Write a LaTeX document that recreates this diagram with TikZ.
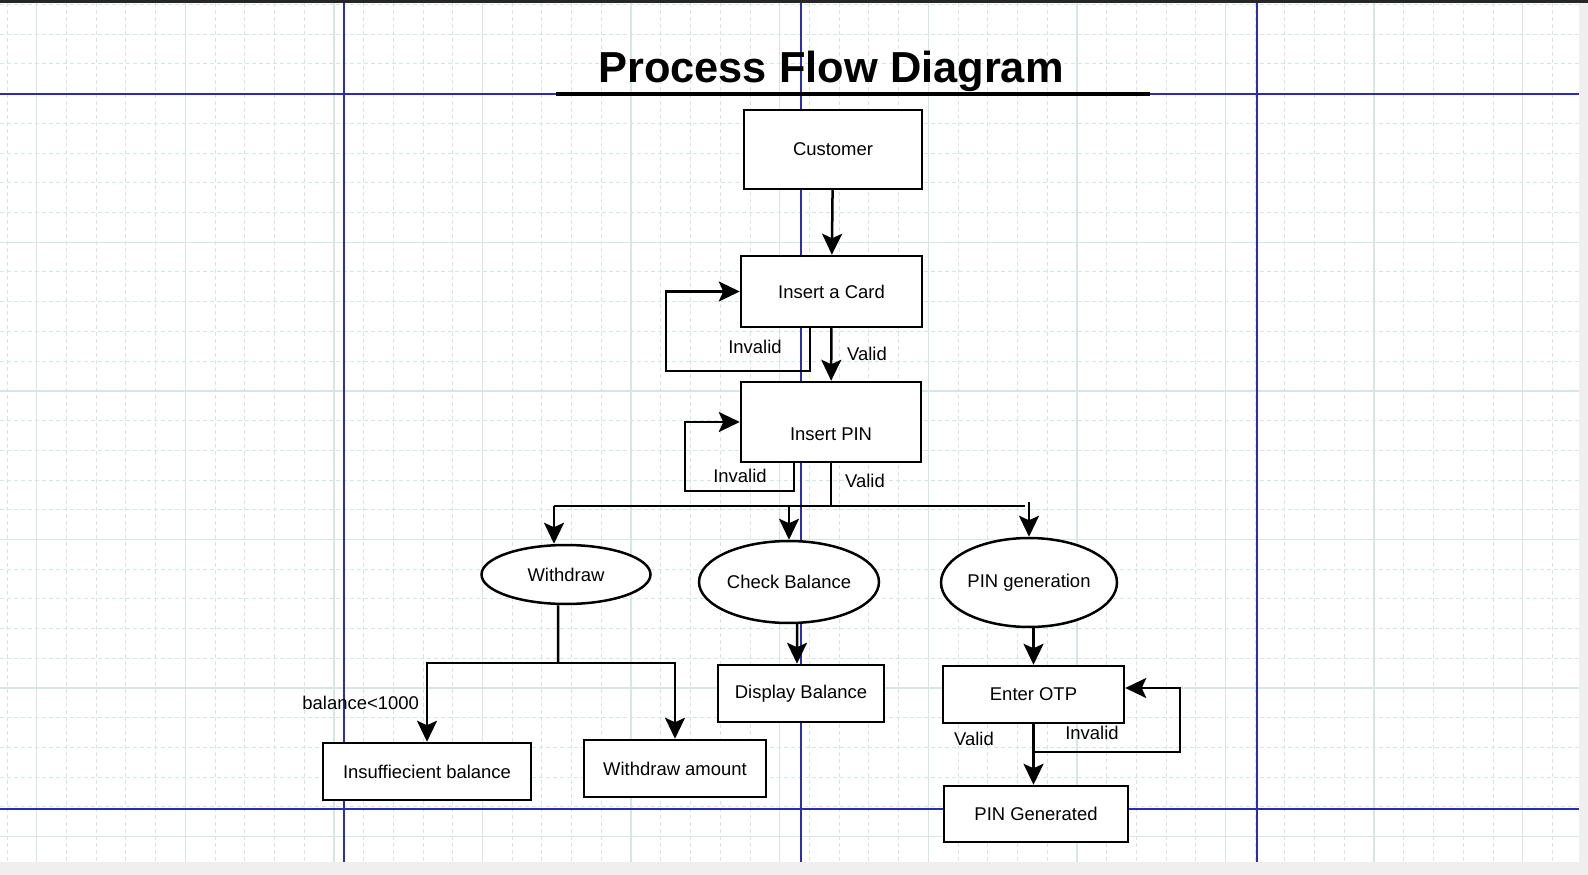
\documentclass[tikz,border=0pt]{standalone}
\usepackage{fontspec}
\setmainfont{Liberation Sans}
\usetikzlibrary{arrows.meta,shapes.geometric}
\definecolor{gridtint}{HTML}{D8E5E5}
\definecolor{guideblue}{HTML}{2B2BB3}
\definecolor{framegray}{HTML}{EFEFEF}

\begin{document}
\begin{tikzpicture}[
  x=0.02cm,
  y=-0.02cm,
  every node/.style={
    font=\fontsize{10.5}{12}\selectfont
  },
  flow box/.style={
    draw,
    fill=white,
    line width=0.05cm,
    inner sep=0pt
  },
  flow oval/.style={
    ellipse,
    draw,
    fill=white,
    line width=0.05cm,
    inner sep=0pt
  },
  flow arrow/.style={
    draw,
    line width=0.05cm,
    -{Stealth[length=0.42cm,width=0.4cm,inset=0.09cm]}
  },
  flow line/.style={
    draw,
    line width=0.05cm
  },
  flow label/.style={
    inner sep=1pt
  },
  grid minor/.style={
    gridtint,
    line width=0.02cm,
    dash pattern=on 0.08cm off 0.06cm
  },
  grid major/.style={
    gridtint,
    line width=0.03cm
  },
  guide line/.style={
    guideblue,
    line width=0.03cm
  },
]
\useasboundingbox (0,0) rectangle (1588,875);
\fill[framegray] (0,0) rectangle (1588,875);
\fill[white] (0,3) rectangle (1579,862);
\fill[black!85] (0,0) rectangle (1588,3);
\foreach \k in {0,...,52}
  \draw[grid minor] (7+29.72*\k,3) -- (7+29.72*\k,862);
\foreach \k in {0,...,28}
  \draw[grid minor] (0,4.5+29.72*\k) -- (1579,4.5+29.72*\k);
\foreach \k in {1,6,...,51}
  \draw[grid major] (7+29.72*\k,3) -- (7+29.72*\k,862);
\foreach \k in {3,8,...,28}
  \draw[grid major] (0,4.5+29.72*\k) -- (1579,4.5+29.72*\k);
\foreach \gx in {344,801,1257}
  \draw[guide line] (\gx,3) -- (\gx,862);
\foreach \gy in {94,809}
  \draw[guide line] (0,\gy) -- (1579,\gy);

\node[anchor=base,font=\fontsize{24.7}{30}\selectfont\bfseries] (title) at (831,83) {Process Flow Diagram};
\draw[line width=0.08cm] (556,94) -- (1150,94);

\node[flow box,minimum width=3.56cm,minimum height=1.58cm] (customer) at (833,149.5) {Customer};
\node[flow box,minimum width=3.62cm,minimum height=1.42cm] (card) at (831.5,291.5) {Insert a Card};
\node[flow box,minimum width=3.60cm,minimum height=1.60cm] (pin) at (831,422) {};
\node (pintext) at (831,434) {Insert PIN};
\node[flow oval,minimum width=3.38cm,minimum height=1.18cm] (withdraw) at (566,574.5) {Withdraw};
\node[flow oval,minimum width=3.60cm,minimum height=1.64cm] (check) at (789,582) {Check Balance};
\node[flow oval,minimum width=3.52cm,minimum height=1.78cm] (pingen) at (1029,582.5) {PIN generation};
\node[flow box,minimum width=4.16cm,minimum height=1.14cm] (insuff) at (427,771.5) {Insuffiecient balance};
\node[flow box,minimum width=3.64cm,minimum height=1.14cm] (amount) at (675,768.5) {Withdraw amount};
\node[flow box,minimum width=3.32cm,minimum height=1.14cm] (display) at (801,693.5) {Display Balance};
\node[flow box,minimum width=3.62cm,minimum height=1.14cm] (otp) at (1033.5,694.5) {Enter OTP};
\node[flow box,minimum width=3.68cm,minimum height=1.12cm] (pingend) at (1036,814) {PIN Generated};

\coordinate (cardloop) at (666,371);
\coordinate (pinloop) at (685,491);
\coordinate (split) at (831,506);
\coordinate (splitl) at (554,506);
\coordinate (splitr) at (1025,506);
\coordinate (wsplit) at (558,663);
\coordinate (otploop) at (1180,752);

\draw[flow arrow] (customer) -- (card);
\draw[flow arrow] ([xshift=-0.43cm]card.south) |- (cardloop) |- (card.west);
\draw[flow arrow] (card) -- (pin);
\draw[flow arrow] ([xshift=-0.74cm]pin.south) |- (pinloop) |- (pin.west);
\draw[flow line] (pin.south) -- (split);
\draw[flow line] (splitl) -- (splitr);
\draw[flow arrow] (splitl) -- (splitl |- withdraw.north);
\draw[flow arrow] (check.north |- split) -- (check.north);
\draw[flow arrow] (pingen.north |- split) ++(0,-4) -- (pingen.north);
\draw[flow line] ([xshift=-0.16cm]withdraw.south) -- (wsplit);
\draw[flow arrow] (wsplit) -| (insuff.north);
\draw[flow arrow] (wsplit) -| (amount.north);
\draw[flow arrow] ([xshift=0.16cm]check.south) -- ([xshift=-0.08cm]display.north);
\draw[flow arrow] (otp.north |- pingen.south) -- (otp.north);
\draw[flow arrow] (otp.south) -- (otp.south |- pingend.north);
\draw[flow arrow] (otp.south |- otploop) -- (otploop) |- ([yshift=0.13cm]otp.east);

\node[flow label] (cardbad) at (755,347) {Invalid};
\node[flow label] (cardok) at (867,354) {Valid};
\node[flow label] (pinbad) at (740,476) {Invalid};
\node[flow label] (pinok) at (865,481) {Valid};
\node[flow label,anchor=east] (lowbal) at (421,703) {balance<1000};
\node[flow label] (otpok) at (974,739) {Valid};
\node[flow label] (otpbad) at (1092,733) {Invalid};
\end{tikzpicture}
\end{document}
